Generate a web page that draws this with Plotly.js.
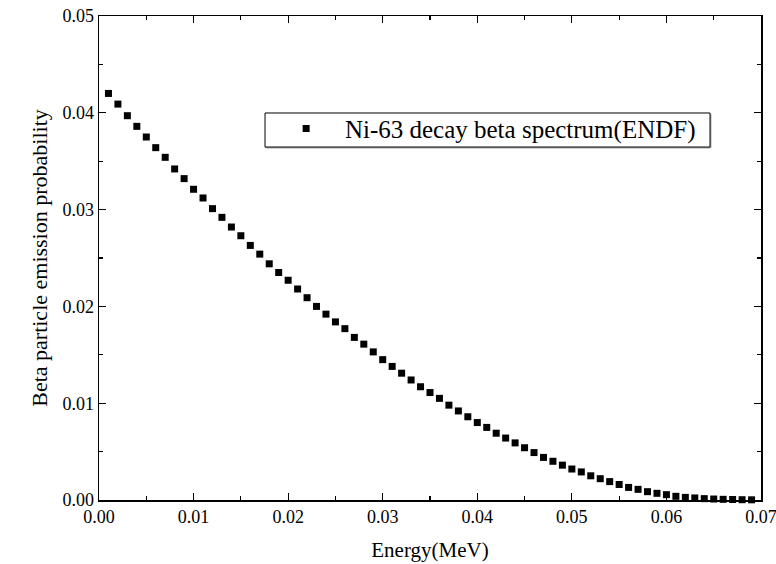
<!DOCTYPE html>
<html>
<head>
<meta charset="utf-8">
<script src="https://cdn.plot.ly/plotly-3.0.1.min.js"></script>
<style>html,body{margin:0;padding:0;background:#fff;}#chart{width:776px;height:564px;}</style>
</head>
<body>
<div id="chart"></div>
<script>
const energy = [0.001,0.002,0.003,0.004,0.005,0.006,0.007,0.008,0.009,0.010,
0.011,0.012,0.013,0.014,0.015,0.016,0.017,0.018,0.019,0.020,
0.021,0.022,0.023,0.024,0.025,0.026,0.027,0.028,0.029,0.030,
0.031,0.032,0.033,0.034,0.035,0.036,0.037,0.038,0.039,0.040,
0.041,0.042,0.043,0.044,0.045,0.046,0.047,0.048,0.049,0.050,
0.051,0.052,0.053,0.054,0.055,0.056,0.057,0.058,0.059,0.060,
0.061,0.062,0.063,0.064,0.065,0.066,0.067,0.068,0.069];
const probability = [0.0420,0.0409,0.0397,0.0386,0.0375,0.0364,0.0354,0.0342,0.0332,0.0321,
0.0312,0.0301,0.0292,0.0282,0.0273,0.0263,0.0254,0.0244,0.0235,0.0227,
0.0218,0.0209,0.0200,0.0192,0.0184,0.0177,0.0168,0.0161,0.0153,0.0145,
0.0138,0.0131,0.0124,0.0117,0.0111,0.0105,0.0098,0.0092,0.0086,0.0080,
0.0075,0.0069,0.0064,0.0059,0.0054,0.0049,0.0044,0.0040,0.0036,0.0032,
0.0029,0.0025,0.0022,0.0019,0.0016,0.0013,0.0011,0.00086,0.00069,0.00055,
0.00038,0.00027,0.00021,0.00014,0.00010,0.00007,0.00005,0.00003,0.00002];
const seriesName = '\u00a0\u00a0\u00a0Ni-63 decay beta spectrum(ENDF)';
const xTitle = 'Energy(MeV)';
const yTitle = 'Beta particle emission probability';

const font = "'Liberation Serif', 'Times New Roman', Times, serif";
const axisCommon = {
  showgrid: false, zeroline: false, showline: true, linecolor: '#000', linewidth: 1.5,
  mirror: 'allticks', ticks: 'inside', ticklen: 7, tickwidth: 1.2, tickcolor: '#000',
  tickfont: {family: font, size: 18, color: '#000'},
  tickformat: '.2f', ticklabeloverflow: 'allow',
  minor: {ticks: 'inside', ticklen: 4, tickwidth: 1.2, tickcolor: '#000', dtick: 0.005, showgrid: false}
};
const data = [{
  x: energy, y: probability, type: 'scatter', mode: 'markers', name: seriesName,
  marker: {symbol: 'square', size: 7, color: '#000'},
  cliponaxis: false
}];
const layout = {
  width: 776, height: 564,
  margin: {l: 99, r: 15, t: 16, b: 64},
  paper_bgcolor: '#fff', plot_bgcolor: '#fff',
  showlegend: true,
  legend: {x: 0.251, y: 0.8145, xanchor: 'left', yanchor: 'top', bgcolor: 'rgba(0,0,0,0)',
    indentation: 21, borderwidth: 0, font: {family: font, size: 25, color: '#000'}},
  shapes: [
    {type: 'rect', xref: 'paper', yref: 'paper', x0: 0.2523, x1: 0.9245, y0: 0.7272, y1: 0.7975,
      line: {color: '#b0b0b0', width: 1}, fillcolor: '#b0b0b0', layer: 'above'},
    {type: 'rect', xref: 'paper', yref: 'paper', x0: 0.2508, x1: 0.9230, y0: 0.7293, y1: 0.7996,
      line: {color: '#000', width: 1}, fillcolor: '#fff', layer: 'above'}
  ],
  xaxis: Object.assign({}, axisCommon, {range: [0, 0.07], dtick: 0.01, tick0: 0,
    title: {text: xTitle, font: {family: font, size: 21, color: '#000'}, standoff: 16}}),
  yaxis: Object.assign({}, axisCommon, {range: [0, 0.05], dtick: 0.01, tick0: 0,
    title: {text: yTitle, font: {family: font, size: 22, color: '#000'}, standoff: 8}})
};
Plotly.newPlot('chart', data, layout, {displayModeBar: false, staticPlot: true});
</script>
</body>
</html>
